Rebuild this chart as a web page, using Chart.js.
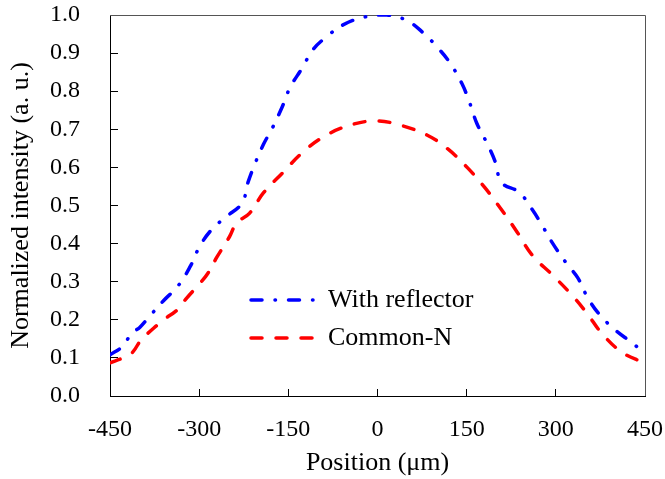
<!DOCTYPE html>
<html>
<head>
<meta charset="utf-8">
<script src="https://cdn.jsdelivr.net/npm/chart.js@4/dist/chart.umd.min.js"></script>
<style>
  html, body { margin: 0; padding: 0; background: #fff; }
  #wrap { width: 665px; height: 479px; }
</style>
</head>
<body>
<div id="wrap"><canvas id="chart"></canvas></div>
<script>
// ================= DATA =================
const reflectorPos = [-450, -430, -413, -400, -383, -360, -335, -315, -300, -280, -255, -228, -218, -206, -192, -176, -160, -147, -127, -108, -84, -58, -21, 16, 50, 77, 102, 122, 142, 155, 167, 184, 198, 209, 238, 260, 278, 295, 317, 337, 354, 374, 400, 429, 443];
const reflectorVal = [0.108, 0.129, 0.165, 0.18, 0.21, 0.25, 0.29, 0.34, 0.39, 0.435, 0.47, 0.506, 0.56, 0.61, 0.66, 0.706, 0.76, 0.81, 0.86, 0.91, 0.945, 0.974, 0.995, 1.0, 0.985, 0.953, 0.913, 0.874, 0.82, 0.77, 0.716, 0.664, 0.615, 0.56, 0.535, 0.49, 0.445, 0.40, 0.35, 0.31, 0.257, 0.213, 0.173, 0.139, 0.12];

const commonPos = [-450, -428, -413, -396, -386, -360, -337, -321, -298, -285, -270, -249, -237, -215, -192, -160, -127, -91, -50, -4, 38, 83, 117, 152, 181, 209, 235, 260, 294, 324, 352, 377, 411, 448];
const commonVal = [0.087, 0.1, 0.113, 0.152, 0.165, 0.2, 0.226, 0.257, 0.297, 0.323, 0.365, 0.418, 0.454, 0.48, 0.533, 0.585, 0.638, 0.68, 0.709, 0.722, 0.711, 0.685, 0.65, 0.598, 0.546, 0.488, 0.43, 0.37, 0.318, 0.27, 0.218, 0.165, 0.115, 0.087];

const seriesNames = ['With reflector', 'Common-N'];
const xTicks = [-450, -300, -150, 0, 150, 300, 450];
const yTicks = [0, 0.1, 0.2, 0.3, 0.4, 0.5, 0.6, 0.7, 0.8, 0.9, 1.0];

const FONT = "'Liberation Serif', 'Times New Roman', serif";

// ================= PLUGINS =================
const frame = {
    id: 'frame',
    beforeDatasetsDraw(chart) {
        const { ctx, chartArea: a } = chart;
        ctx.save();
        ctx.strokeStyle = '#555';
        ctx.lineWidth = 1;
        ctx.beginPath();
        ctx.moveTo(a.left, a.top + 0.5);
        ctx.lineTo(a.right + 0.5, a.top + 0.5);
        ctx.lineTo(a.right + 0.5, a.bottom);
        ctx.stroke();
        ctx.restore();
    }
};

const insideLegend = {
    id: 'insideLegend',
    afterDatasetsDraw(chart) {
        const { ctx } = chart;
        const rows = [300, 338];
        ctx.save();
        chart.data.datasets.forEach((ds, i) => {
            const y = rows[i];
            ctx.strokeStyle = ds.borderColor;
            ctx.lineWidth = ds.borderWidth;
            ctx.lineCap = 'round';
            ctx.setLineDash(ds.borderDash);
            ctx.beginPath();
            ctx.moveTo(251, y);
            ctx.lineTo(316, y);
            ctx.stroke();
            ctx.setLineDash([]);
            ctx.fillStyle = '#000';
            ctx.font = '26px ' + FONT;
            ctx.textAlign = 'left';
            ctx.textBaseline = 'middle';
            ctx.fillText(ds.label, 328, y);
        });
        ctx.restore();
    }
};

function noPadding(scale) {
    scale.paddingTop = 0;
    scale.paddingBottom = 0;
    scale.paddingLeft = 0;
    scale.paddingRight = 0;
}

// ================= CHART =================
const ctx = document.getElementById('chart');
new Chart(ctx, {
    type: 'line',
    data: {
        datasets: [
            {
                label: seriesNames[0],
                data: reflectorPos.map((x, i) => ({ x: x, y: reflectorVal[i] })),
                borderColor: '#0000ff',
                borderWidth: 3.5,
                borderDash: [11, 13, 0.5, 13],
                borderCapStyle: 'round',
                pointRadius: 0,
                tension: 0.4,
                fill: false
            },
            {
                label: seriesNames[1],
                data: commonPos.map((x, i) => ({ x: x, y: commonVal[i] })),
                borderColor: '#ff0000',
                borderWidth: 3.5,
                borderDash: [11, 14],
                borderCapStyle: 'round',
                pointRadius: 0,
                tension: 0.4,
                fill: false
            }
        ]
    },
    options: {
        responsive: true,
        maintainAspectRatio: false,
        animation: false,
        layout: { padding: { top: 15, right: 20, bottom: 0, left: 0 } },
        plugins: {
            legend: { display: false },
            tooltip: { enabled: false }
        },
        scales: {
            x: {
                type: 'linear',
                min: -450,
                max: 450,
                afterBuildTicks: (scale) => { scale.ticks = xTicks.map(v => ({ value: v })); },
                afterFit: (scale) => { scale.height = 83; noPadding(scale); },
                grid: { drawOnChartArea: false, tickLength: -7, color: '#000' },
                border: { color: '#000', width: 1 },
                ticks: {
                    color: '#000',
                    padding: 26,
                    maxRotation: 0,
                    font: { family: FONT, size: 24 },
                    callback: (v) => String(v)
                },
                title: {
                    display: true,
                    text: 'Position (μm)',
                    color: '#000',
                    font: { family: FONT, size: 26 },
                    padding: { top: 0, bottom: 0 }
                }
            },
            y: {
                min: 0,
                max: 1,
                afterBuildTicks: (scale) => { scale.ticks = yTicks.map(v => ({ value: v })); },
                afterFit: (scale) => { scale.width = 110; noPadding(scale); },
                grid: { drawOnChartArea: false, tickLength: -8, color: '#000' },
                border: { color: '#000', width: 1 },
                ticks: {
                    color: '#000',
                    padding: 38,
                    font: { family: FONT, size: 24 },
                    callback: (v) => Number(v).toFixed(1)
                },
                title: {
                    display: true,
                    text: 'Normalized intensity (a. u.)',
                    color: '#000',
                    font: { family: FONT, size: 26 },
                    padding: { top: 6, bottom: 0 }
                }
            }
        }
    },
    plugins: [frame, insideLegend]
});
</script>
</body>
</html>
